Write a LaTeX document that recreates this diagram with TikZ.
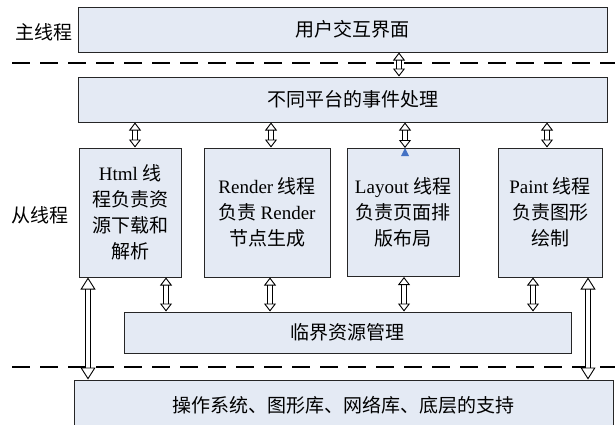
\documentclass[tikz,border=0pt]{standalone}
\usepackage{fontspec}
\setmainfont{Liberation Serif}
\newfontfamily\cjk{Noto Sans CJK SC}
\usetikzlibrary{arrows.meta}

\definecolor{boxfill}{HTML}{E4EAF4}
\definecolor{tipblue}{HTML}{4472C4}
\newcommand{\lat}[1]{{\rmfamily #1}}

\begin{document}
\begin{tikzpicture}[x=1pt, y=-1pt,
    box/.style={draw=black!85, line width=1pt, fill=boxfill, align=center, inner sep=0pt,
        font=\cjk\fontsize{19}{26}\selectfont},
    side/.style={font=\cjk\fontsize{19}{26}\selectfont, inner sep=0pt},
    dbl/.style={double=white, double distance=3.6pt, line width=0.9pt,
        {Triangle[open, length=8pt, width=12pt, line width=0.9pt]}-{Triangle[open, length=8pt, width=12pt, line width=0.9pt]}},
    big dbl/.style={double=white, double distance=4.4pt, line width=0.9pt,
        {Triangle[open, length=12pt, width=15pt, line width=0.9pt]}-{Triangle[open, length=12pt, width=15pt, line width=0.9pt]}},
    sep line/.style={draw=black, line width=2.2pt, dash pattern=on 18pt off 10pt}]
    \useasboundingbox (0,0) rectangle (615,424);

    % main thread
    \node[box, minimum width=529pt, minimum height=45pt] (user) at (342.5,29.5) {\hspace*{20pt}用户交互界面};
    \node[side] (mainlbl) at (44,32) {主线程};
    \draw[sep line] (12,63) -- (615,63);

    % worker threads
    \node[box, below of=user, node distance=70pt, minimum width=529pt, minimum height=45pt] (event) {\hspace*{20pt}不同平台的事件处理};
    \node[box, minimum width=102pt, minimum height=129pt] (html) at (130,212.5) {\lat{Html} 线\\程负责资\\源下载和\\解析};
    \node[box, right of=html, node distance=137pt, minimum width=126pt, minimum height=129pt] (render) {\lat{Render} 线程\\负责 \lat{Render}\\节点生成};
    \node[box, right of=render, node distance=136pt, minimum width=112pt, minimum height=128pt] (layout) {\lat{Layout} 线程\\负责页面排\\版布局};
    \node[box, right of=layout, node distance=147pt, minimum width=104pt, minimum height=129pt] (paint) {\lat{Paint} 线程\\负责图形\\绘制};
    \node[side] (sublbl) at (40,215) {从线程};
    \node[box, minimum width=447pt, minimum height=41pt] (crit) at (347.5,332.5) {临界资源管理};
    \draw[sep line] (12,367) -- (615,367);

    % system layer
    \node[box, minimum width=539pt, minimum height=50pt] (os) at (343.5,405) {操作系统、图形库、网络库、底层的支持};

    % connections
    \draw[dbl] ([xshift=56.5pt]user.south) coordinate (m) -- (m |- event.north);
    \foreach \n/\dx in {html/5,render/4,layout/2,paint/-3}
        \draw[dbl] ([xshift=\dx pt]\n.north) coordinate (t) -- (t |- event.south);
    \foreach \n/\dx in {html/36,render/3,layout/1,paint/-17}
        \draw[dbl] ([xshift=\dx pt]\n.south) coordinate (b) -- (b |- crit.north);
    \draw[big dbl] ([xshift=-42pt]html.south) coordinate (l) -- (l |- os.north);
    \draw[big dbl] ([xshift=38pt]paint.south) coordinate (r) -- (r |- os.north);
    \fill[tipblue] ([xshift=2pt]layout.north) -- ++(-4,8) -- ++(8,0) -- cycle;
\end{tikzpicture}
\end{document}
